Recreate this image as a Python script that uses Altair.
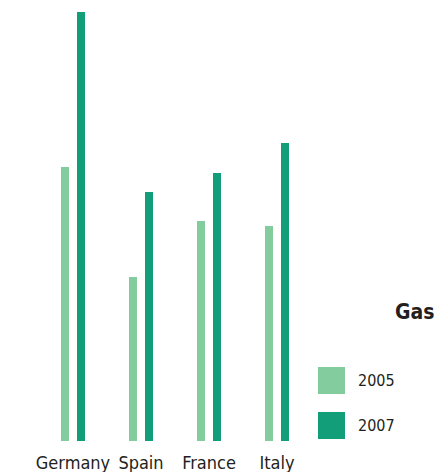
import altair as alt
import pandas as pd

countries = ["Germany", "Spain", "France", "Italy"]
years = ["2005", "2007"]
values_2005 = [27.4, 16.4, 22.0, 21.5]
values_2007 = [42.9, 24.9, 26.8, 29.8]
colors = ["#82CC9D", "#119E78"]

rows = []
for c, v5, v7 in zip(countries, values_2005, values_2007):
    rows.append({"country": c, "year": years[0], "value": v5})
    rows.append({"country": c, "year": years[1], "value": v7})
df = pd.DataFrame(rows)

FONT = "DejaVu Sans Condensed"

chart = alt.Chart(df).mark_bar().encode(
    x=alt.X("country:N", sort=countries,
            scale=alt.Scale(paddingInner=0.647, paddingOuter=0.3235),
            axis=alt.Axis(title=None, ticks=False, domain=False, labelAngle=0,
                          labelFontSize=18, labelPadding=13, labelColor="#231f20",
                          labelFont=FONT)),
    xOffset=alt.XOffset("year:N", sort=years,
                        scale=alt.Scale(paddingInner=0.5, paddingOuter=0)),
    y=alt.Y("value:Q", axis=None,
            scale=alt.Scale(domain=[0, max(values_2007)], nice=False)),
    color=alt.Color("year:N", sort=years,
                    scale=alt.Scale(domain=years, range=colors),
                    legend=alt.Legend(title="Gas", orient="none",
                                      legendX=279, legendY=290,
                                      padding=0,
                                      titleFontSize=21, titleFont=FONT,
                                      titleFontWeight="bold", titleColor="#231f20",
                                      titleAnchor="end", titleAlign="left",
                                      titlePadding=44,
                                      symbolType="square", symbolSize=729,
                                      symbolStrokeWidth=0, symbolOpacity=1,
                                      labelFontSize=16, labelFont=FONT,
                                      labelColor="#231f20", labelOffset=13,
                                      rowPadding=18)),
).properties(
    width=272, height=429,
    padding={"left": 27, "top": 4, "right": 0, "bottom": 0},
).configure_view(stroke=None)

chart.save("out.html", embed_options={"renderer": "svg", "actions": False})
